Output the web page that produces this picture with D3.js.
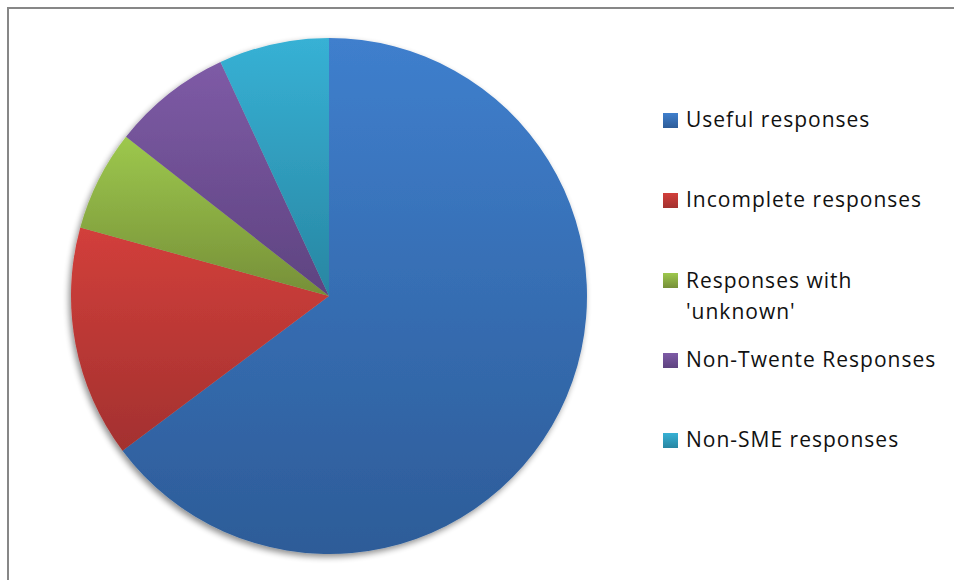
<!DOCTYPE html>
<html>
<head>
<meta charset="utf-8">
<script src="https://cdn.jsdelivr.net/npm/d3@7"></script>
<style>
  body { margin: 0; background: #fff; }
  svg { display: block; }
</style>
</head>
<body>
<div id="chart"></div>
<script>
var categories = ["Useful responses", "Incomplete responses", "Responses with 'unknown'", "Non-Twente Responses", "Non-SME responses"];
var legendLines = [["Useful responses"], ["Incomplete responses"], ["Responses with", "'unknown'"], ["Non-Twente Responses"], ["Non-SME responses"]];
var values = [64.7, 14.5, 6.3, 7.5, 6.9];
var topColors = ["#3f7fcd", "#d23f3b", "#9dc84d", "#7e5ba6", "#37b1d5"];
var bottomColors = ["#2d5c98", "#a3312f", "#768f38", "#5e4380", "#2886a2"];

var W = 954, H = 580;
var g = {cx: 329, cy: 296, r: 258};

var svg = d3.select("#chart").append("svg")
  .attr("width", W)
  .attr("height", H);

var defs = svg.append("defs");

var shadow = defs.append("filter")
  .attr("id", "shadow")
  .attr("x", "-10%").attr("y", "-10%")
  .attr("width", "120%").attr("height", "120%");
shadow.append("feGaussianBlur").attr("in", "SourceAlpha").attr("stdDeviation", 3);
shadow.append("feOffset").attr("dx", -2).attr("dy", 3).attr("result", "blur");
shadow.append("feComponentTransfer").append("feFuncA").attr("type", "linear").attr("slope", 0.45);
var merge = shadow.append("feMerge");
merge.append("feMergeNode");
merge.append("feMergeNode").attr("in", "SourceGraphic");

categories.forEach(function(c, i) {
  var lg = defs.append("linearGradient")
    .attr("id", "grad" + i)
    .attr("x1", 0).attr("y1", 0).attr("x2", 0).attr("y2", 1);
  lg.append("stop").attr("offset", "0%").attr("stop-color", topColors[i]);
  lg.append("stop").attr("offset", "100%").attr("stop-color", bottomColors[i]);
});

// chart area border (runs off the right and bottom edges)
svg.append("rect")
  .attr("x", 8).attr("y", 8)
  .attr("width", W + 20).attr("height", H + 20)
  .attr("fill", "none")
  .attr("stroke", "#878787")
  .attr("stroke-width", 2);

var pie = d3.pie().sort(null).value(function(d) { return d; });
var arc = d3.arc().innerRadius(0).outerRadius(g.r);

var pieG = svg.append("g")
  .attr("transform", "translate(" + g.cx + "," + g.cy + ")")
  .attr("filter", "url(#shadow)");

pieG.selectAll("path")
  .data(pie(values))
  .enter().append("path")
    .attr("d", arc)
    .attr("fill", function(d, i) { return "url(#grad" + i + ")"; });

// legend
var legend = svg.append("g").attr("transform", "translate(663,0)");
var rowY = d3.scaleLinear().domain([0, 4]).range([120, 440]);

var item = legend.selectAll(".item")
  .data(categories)
  .enter().append("g")
    .attr("class", "item")
    .attr("transform", function(d, i) { return "translate(0," + rowY(i) + ")"; });

item.append("rect")
  .attr("x", 0).attr("y", -7)
  .attr("width", 15).attr("height", 15)
  .attr("fill", function(d, i) { return "url(#grad" + i + ")"; });

item.append("text")
  .attr("x", 23)
  .attr("y", 7)
  .style("font-family", "'Open Sans', sans-serif")
  .style("font-size", "21px")
  .style("letter-spacing", "1px")
  .style("fill", "#111")
  .selectAll("tspan")
  .data(function(d, i) { return legendLines[i]; })
  .enter().append("tspan")
    .attr("x", 23)
    .attr("dy", function(d, j) { return j === 0 ? 0 : 31; })
    .text(function(d) { return d; });

// keep the two-line entry vertically where it is in the original
item.filter(function(d, i) { return i === 2; })
  .select("text").attr("y", 8);
</script>
</body>
</html>
